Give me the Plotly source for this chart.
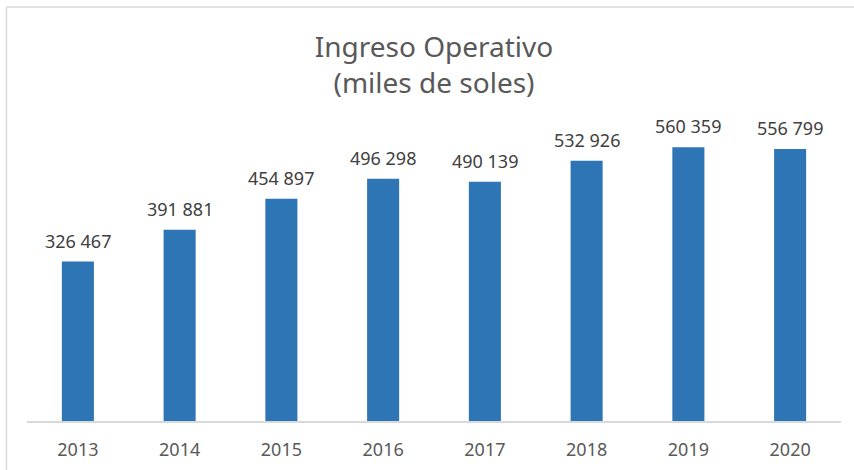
import plotly.graph_objects as go

# Operating income by year (thousands of soles)
years = ["2013", "2014", "2015", "2016", "2017", "2018", "2019", "2020"]
ingreso = [326467, 391881, 454897, 496298, 490139, 532926, 560359, 556799]

def fmt(v):
    return f"{v:,}".replace(",", " ")

bar_color = "#2E75B6"
font_family = "Noto Sans, Open Sans, sans-serif"

fig = go.Figure()
fig.add_trace(go.Bar(
    x=years,
    y=ingreso,
    marker=dict(color=bar_color, line=dict(width=0)),
    hoverinfo="x+y",
))

# value labels above each bar (positioned by category index)
for i, v in enumerate(ingreso):
    fig.add_annotation(
        x=i, y=v, text=fmt(v), showarrow=False,
        yanchor="bottom", yshift=7,
        font=dict(family=font_family, size=18, color="#404040"),
    )

# chart frame (top and left edges)
W, H = 854, 470
ml, mr, mt, mb = 27, 13, 128, 49
pw, ph = W - ml - mr, H - mt - mb
def px(x):
    return (x - ml) / pw
def py(y):
    return (H - mb - y) / ph
frame = dict(color="#D9D9D9", width=1.5)
fig.add_shape(type="line", xref="paper", yref="paper",
              x0=px(6.5), x1=px(W + 5), y0=py(7), y1=py(7), line=frame)
fig.add_shape(type="line", xref="paper", yref="paper",
              x0=px(6.5), x1=px(6.5), y0=py(7), y1=py(H + 5), line=frame)

fig.update_layout(
    width=W, height=H,
    margin=dict(l=ml, r=mr, t=mt, b=mb, autoexpand=False),
    paper_bgcolor="white", plot_bgcolor="white",
    showlegend=False,
    bargap=0.685,
    title=dict(
        text="Ingreso Operativo<br>(miles de soles)",
        x=0.5, xref="paper", xanchor="center",
        y=1 - 57 / H, yref="container", yanchor="middle",
        font=dict(family=font_family, size=28, color="#595959"),
    ),
    xaxis=dict(
        type="category", range=[-0.5, len(years) - 0.5],
        automargin=False,
        showgrid=False, zeroline=False,
        showline=True, linecolor="#D9D9D9", linewidth=1.5,
        ticks="", ticklabelstandoff=12,
        tickfont=dict(family=font_family, size=18, color="#595959"),
    ),
    yaxis=dict(
        range=[0, 600000], visible=False, showgrid=False, zeroline=False,
        automargin=False,
    ),
)

fig.write_html("out.html")
